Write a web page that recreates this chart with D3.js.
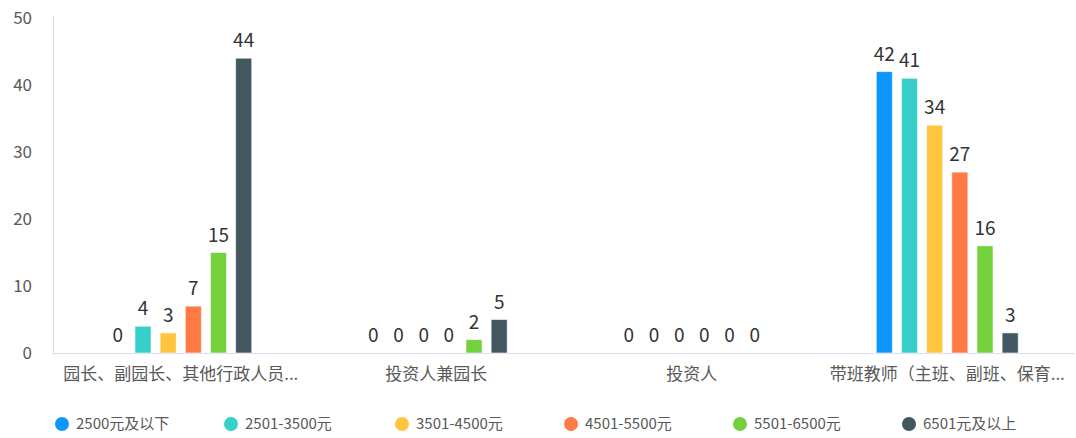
<!DOCTYPE html>
<html><head><meta charset="utf-8">
<script src="https://cdn.jsdelivr.net/npm/d3@7"></script>
<style>
html,body{margin:0;padding:0;background:#fff;}
svg{display:block;font-family:"Noto Sans CJK SC","Noto Sans",sans-serif;}
</style></head>
<body><svg id="c" width="1076" height="438"></svg>
<script>
const categories = ["园长、副园长、其他行政人员...", "投资人兼园长", "投资人", "带班教师（主班、副班、保育..."];
const seriesNames = ["2500元及以下", "2501-3500元", "3501-4500元", "4501-5500元", "5501-6500元", "6501元及以上"];
const s2500 = [0, 0, 0, 42];
const s3500 = [4, 0, 0, 41];
const s4500 = [3, 0, 0, 34];
const s5500 = [7, 0, 0, 27];
const s6500 = [15, 2, 0, 16];
const s6501 = [44, 5, 0, 3];
const yTicks = [0, 10, 20, 30, 40, 50];
const colors = ["#0c96fe", "#36cfc9", "#ffc53d", "#ff7a45", "#73d13d", "#435761"];
const seriesValues = [s2500, s3500, s4500, s5500, s6500, s6501];

const svg = d3.select("#c");
const mLeft = 53, mRight = 1075, mTop = 18, mBottom = 353;
const x = d3.scaleBand().domain(categories).range([mLeft, mRight]);
const y = d3.scaleLinear().domain([0, 50]).range([mBottom, mTop]);
const groupW = 151;
const x1 = d3.scaleBand().domain(d3.range(seriesNames.length)).range([0, groupW]).paddingInner(0.36).paddingOuter(0.18);

// axes lines
svg.append("line").attr("x1", mLeft + 0.5).attr("x2", mLeft + 0.5).attr("y1", mTop - 2).attr("y2", mBottom)
  .attr("stroke", "#d5dcef").attr("stroke-width", 1);
svg.append("line").attr("x1", mLeft).attr("x2", mRight).attr("y1", mBottom + 0.5).attr("y2", mBottom + 0.5)
  .attr("stroke", "#d5dcef").attr("stroke-width", 1);

// y tick labels
const yAxis = d3.axisLeft(y).tickValues(yTicks).tickSize(0).tickPadding(21);
const ya = svg.append("g").attr("transform", `translate(${mLeft},0)`).call(yAxis);
ya.select(".domain").remove();
ya.selectAll("text").attr("font-size", 17).attr("fill", "#595959").attr("font-family", '"Noto Sans CJK SC","Noto Sans",sans-serif');

// x labels
const xAxis = d3.axisBottom(x).tickSize(0).tickPadding(15);
const xa = svg.append("g").attr("transform", `translate(0,${mBottom})`).call(xAxis);
xa.select(".domain").remove();
xa.selectAll("text").attr("font-size", 17).attr("fill", "#595959").attr("font-family", '"Noto Sans CJK SC","Noto Sans",sans-serif');

// bars
const groups = svg.append("g").selectAll("g").data(categories).join("g")
  .attr("transform", d => `translate(${x(d) + x.bandwidth() / 2 - groupW / 2},0)`);
groups.each(function(cat, ci) {
  const g = d3.select(this);
  seriesValues.forEach((vals, si) => {
    const v = vals[ci];
    if (v > 0) {
      g.append("rect").attr("x", x1(si)).attr("width", x1.bandwidth())
        .attr("y", y(v)).attr("height", y(0) - y(v))
        .attr("fill", colors[si]).attr("stroke", "rgba(255,255,255,0.6)").attr("stroke-width", 1);
    }
    g.append("text").attr("x", x1(si) + x1.bandwidth() / 2).attr("y", y(v) - 11)
      .attr("text-anchor", "middle").attr("font-size", 19).attr("fill", "#333")
      .text(v);
  });
});

// legend
const legendX = [62, 231, 402, 571, 740, 909];
const lg = svg.append("g").selectAll("g").data(seriesNames).join("g")
  .attr("transform", (d, i) => `translate(${legendX[i]},424)`);
lg.append("circle").attr("r", 7).attr("fill", (d, i) => colors[i]);
lg.append("text").attr("x", 14).attr("dy", "0.35em").attr("font-size", 15).attr("fill", "#595959").text(d => d);
</script></body></html>
